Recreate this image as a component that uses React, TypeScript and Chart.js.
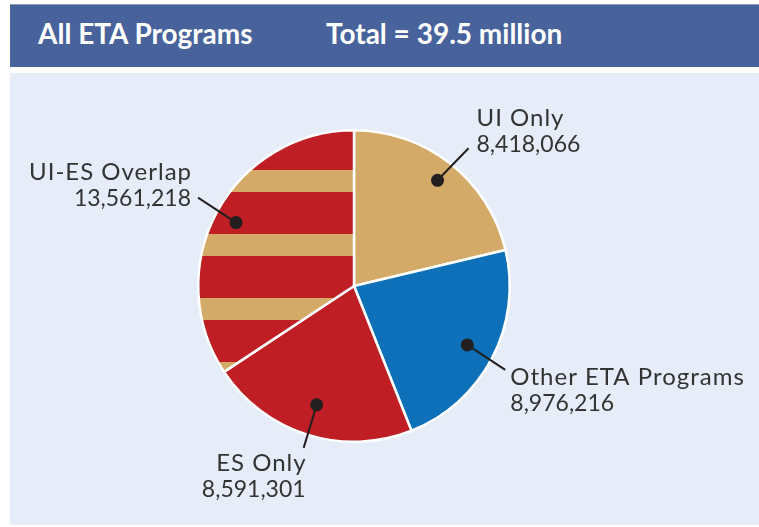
import React, { useEffect, useRef } from "react";
import { Chart, registerables } from "chart.js";

Chart.register(...registerables);

const categories = ["UI Only", "Other ETA Programs", "ES Only", "UI-ES Overlap"];
const values = [8418066, 8976216, 8591301, 13561218];
const valueLabels = ["8,418,066", "8,976,216", "8,591,301", "13,561,218"];
const headerLeft = "All ETA Programs";
const headerRight = "Total = 39.5 million";

const TAN = "#d3aa68";
const RED = "#be1e24";
const BLUE = "#0d70b9";
const INK = "#231f20";
const TEXT = "#333333";

// label placement relative to the dot (styling only)
const labelStyles = [
  { frac: 0.865, lx: 31, ly: -32, tx: 39, ty: -54, align: "left" },
  { frac: 0.82, lx: 38, ly: 25, tx: 43, ty: 40, align: "left" },
  { frac: 0.8, lx: -13, ly: 43, tx: -11, ty: 66, align: "right" },
  { frac: 0.86, lx: -38, ly: -25, tx: -45, ty: -43, align: "right" },
];

function makeStripes(): CanvasPattern | string {
  const c = document.createElement("canvas");
  c.width = 8;
  c.height = 64;
  const g = c.getContext("2d");
  if (!g) return RED;
  g.fillStyle = RED;
  g.fillRect(0, 0, 8, 42);
  g.fillStyle = TAN;
  g.fillRect(0, 42, 8, 22);
  const ctx = document.createElement("canvas").getContext("2d");
  const p = ctx ? ctx.createPattern(c, "repeat") : null;
  return p || RED;
}

const labelPlugin = {
  id: "leaderLabels",
  afterDatasetsDraw(chart: any) {
    const ctx = chart.ctx as CanvasRenderingContext2D;
    const meta = chart.getDatasetMeta(0);
    meta.data.forEach((arc: any, i: number) => {
      const s = labelStyles[i];
      const { x, y, startAngle, endAngle, outerRadius } = arc.getProps(
        ["x", "y", "startAngle", "endAngle", "outerRadius"],
        true
      );
      const mid = (startAngle + endAngle) / 2;
      const dx = x + Math.cos(mid) * outerRadius * s.frac;
      const dy = y + Math.sin(mid) * outerRadius * s.frac;
      ctx.save();
      ctx.strokeStyle = INK;
      ctx.lineWidth = 2;
      ctx.beginPath();
      ctx.moveTo(dx, dy);
      ctx.lineTo(dx + s.lx, dy + s.ly);
      ctx.stroke();
      ctx.fillStyle = INK;
      ctx.beginPath();
      ctx.arc(dx, dy, 6.5, 0, Math.PI * 2);
      ctx.fill();
      ctx.fillStyle = TEXT;
      ctx.textAlign = s.align as CanvasTextAlign;
      ctx.textBaseline = "alphabetic";
      ctx.font = "400 24px Lato, 'Noto Sans', sans-serif";
      (ctx as any).letterSpacing = "1px";
      const shift = s.align === "right" ? 1 : 0;
      ctx.fillText(categories[i], dx + s.tx + shift, dy + s.ty);
      ctx.font = "400 23px Lato, 'Noto Sans', sans-serif";
      (ctx as any).letterSpacing = "0px";
      ctx.fillText(valueLabels[i], dx + s.tx, dy + s.ty + 26);
      ctx.restore();
    });
  },
};

export default function App() {
  const ref = useRef<HTMLCanvasElement>(null);
  useEffect(() => {
    if (!ref.current) return;
    const stripes = makeStripes();
    const chart = new Chart(ref.current, {
      type: "pie",
      data: {
        labels: categories,
        datasets: [
          {
            data: values,
            backgroundColor: [TAN, BLUE, RED, stripes as any],
            borderColor: "#ffffff",
            borderWidth: 2.5,
          },
        ],
      },
      options: {
        responsive: false,
        animation: false,
        layout: { padding: { left: 197, right: 248, top: 129, bottom: 84 } },
        plugins: {
          legend: { display: false },
          tooltip: { enabled: false },
        },
      },
      plugins: [labelPlugin],
    });
    return () => chart.destroy();
  }, []);

  const headerText: React.CSSProperties = {
    position: "absolute",
    top: -3,
    height: 63,
    lineHeight: "63px",
    color: "#ffffff",
    fontFamily: "Lato, 'Noto Sans', sans-serif",
    fontWeight: 700,
    fontSize: 28,
    whiteSpace: "nowrap",
  };

  return (
    <div
      style={{
        position: "absolute",
        left: 0,
        top: 0,
        width: 759,
        height: 527,
        background: "#ffffff",
        overflow: "hidden",
      }}
    >
      <div
        style={{
          position: "absolute",
          left: 10,
          top: 4,
          width: 749,
          height: 63,
          background: "#48639b",
          borderTop: "1px solid #8e9cb9",
          boxSizing: "border-box",
        }}
      >
        <span style={{ ...headerText, left: 28 }}>{headerLeft}</span>
        <span style={{ ...headerText, left: 316 }}>{headerRight}</span>
      </div>
      <div
        style={{
          position: "absolute",
          left: 10,
          top: 73,
          width: 749,
          height: 452,
          background: "#e6edf8",
        }}
      />
      <canvas
        ref={ref}
        width={759}
        height={527}
        style={{ position: "absolute", left: 0, top: 0, width: 759, height: 527 }}
      />
    </div>
  );
}
